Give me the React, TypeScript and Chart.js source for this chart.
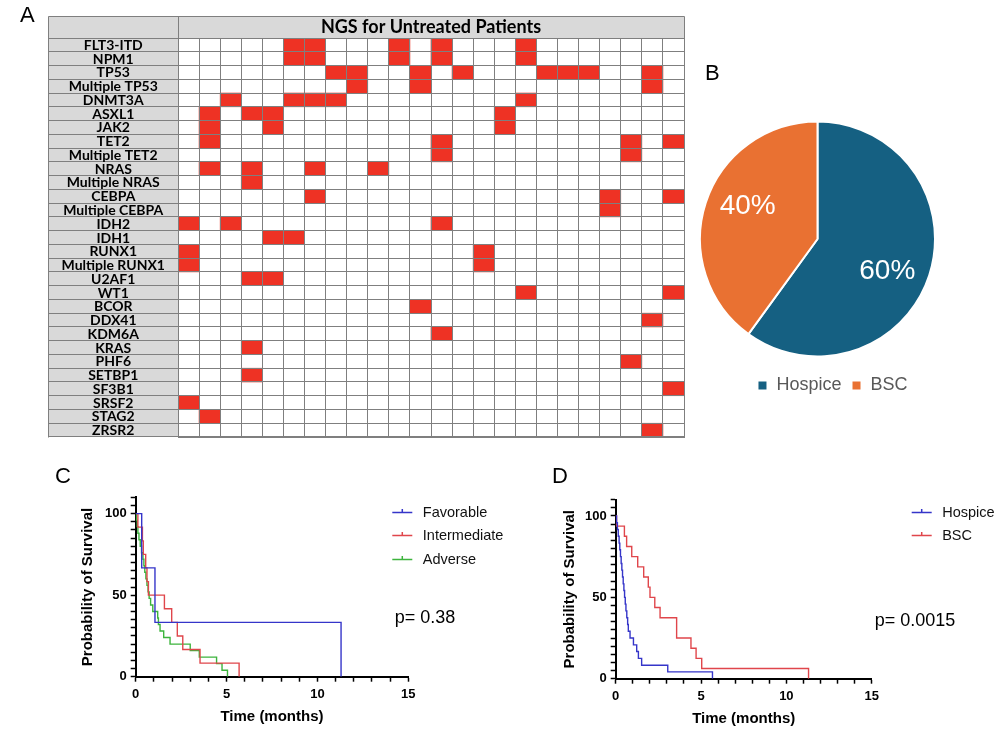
import React, { useEffect, useRef } from "react";
import { Chart, registerables } from "chart.js";

Chart.register(...registerables);

// ---------------- Panel A : NGS heatmap ----------------
const genes = [
  "FLT3-ITD", "NPM1", "TP53", "Multiple TP53", "DNMT3A", "ASXL1", "JAK2", "TET2",
  "Multiple TET2", "NRAS", "Multiple NRAS", "CEBPA", "Multiple CEBPA", "IDH2", "IDH1",
  "RUNX1", "Multiple RUNX1", "U2AF1", "WT1", "BCOR", "DDX41", "KDM6A", "KRAS", "PHF6",
  "SETBP1", "SF3B1", "SRSF2", "STAG2", "ZRSR2",
];
const patientCount = 24;
// mutated patient columns (0-based) for each gene, same order as genes
const mutatedPatients: number[][] = [
  [5, 6, 10, 12, 16],
  [5, 6, 10, 12, 16],
  [7, 8, 11, 13, 17, 18, 19, 22],
  [8, 11, 22],
  [2, 5, 6, 7, 16],
  [1, 3, 4, 15],
  [1, 4, 15],
  [1, 12, 21, 23],
  [12, 21],
  [1, 3, 6, 9],
  [3],
  [6, 20, 23],
  [20],
  [0, 2, 12],
  [4, 5],
  [0, 14],
  [0, 14],
  [3, 4],
  [16, 23],
  [11],
  [22],
  [12],
  [3],
  [21],
  [3],
  [23],
  [0],
  [1],
  [22],
];
const heatmapTitle = "NGS for Untreated Patients";

// ---------------- Panel B : pie ----------------
const careLabels = ["Hospice", "BSC"];
const careShares = [60, 40];

// ---------------- Panel C : KM by risk ----------------
const favorableTimes = [0, 0.33, 1.06, 11.3];
const favorableSurvival = [100, 66.7, 33.3, 0];
const intermediateTimes = [0, 0.12, 0.37, 0.42, 0.55, 0.62, 0.7, 1.58, 1.98, 2.29, 2.59, 3.54, 5.69];
const intermediateSurvival = [100, 91.7, 83.3, 75, 66.7, 58.3, 50, 41.7, 33.3, 25, 16.7, 8.3, 0];
const adverseTimes = [0, 0.03, 0.08, 0.12, 0.18, 0.25, 0.32, 0.4, 0.45, 0.5, 0.56, 0.62, 0.68, 0.74, 0.82, 0.94, 1.21, 1.25, 1.34, 1.54, 1.89, 3.0, 3.5, 4.45, 4.75, 5.05];
const adverseSurvival = [100, 96, 92, 88, 84, 80, 76, 72, 68, 64, 60, 56, 52, 48, 44, 40, 36, 32, 28, 24, 20, 16, 12, 8, 4, 0];
const pValueC = "p= 0.38";

// ---------------- Panel D : KM by care ----------------
const hospiceTimes = [0, 0.05, 0.1, 0.15, 0.2, 0.24, 0.28, 0.32, 0.36, 0.4, 0.44, 0.48, 0.52, 0.56, 0.6, 0.65, 0.7, 0.74, 0.84, 1.04, 1.23, 1.33, 1.52, 3.05, 5.67];
const hospiceSurvival = [100, 95.8, 91.7, 87.5, 83.3, 79.2, 75, 70.8, 66.7, 62.5, 58.3, 54.2, 50, 45.8, 41.7, 37.5, 33.3, 29.2, 25, 20.8, 16.7, 12.5, 8.3, 4.2, 0];
const bscTimes = [0, 0.05, 0.51, 0.64, 0.94, 1.29, 1.64, 1.91, 2.01, 2.29, 2.6, 3.57, 4.41, 4.71, 5.04, 11.3];
const bscSurvival = [100, 93.75, 87.5, 81.25, 75, 68.75, 62.5, 56.25, 50, 43.75, 37.5, 25, 18.75, 12.5, 6.25, 0];
const pValueD = "p= 0.0015";

const xTicksMonths = [0, 5, 10, 15];
const yTicksSurvival = [0, 50, 100];

// ---------------- styles ----------------
const SANS = '"Liberation Sans", Arial, Helvetica, sans-serif';
const TABLE_FONT = 'Lato, "DejaVu Sans Condensed", sans-serif';
const CELL_RED = "#ee3224";
const CELL_GRAY = "#d9d9d9";
const GRID_LINE = "#7f7f7f";
const KM_BLUE = "#3535c9";
const KM_RED = "#e0464b";
const KM_GREEN = "#3db43d";

const crisp = (v: number) => Math.round(v - 0.5) + 0.5;

function Heatmap() {
  const ref = useRef<HTMLCanvasElement>(null);
  useEffect(() => {
    const maxHits = Math.max(...mutatedPatients.map((m) => m.length));
    const datasets = Array.from({ length: maxHits }, (_, k) => ({
      label: "hit " + (k + 1),
      data: mutatedPatients.map((m) => (k < m.length ? [m[k], m[k] + 1] : null)),
      backgroundColor: CELL_RED,
      borderWidth: 0,
      grouped: false,
      barPercentage: 1,
      categoryPercentage: 1,
    }));
    const tablePlugin = {
      id: "tableDecor",
      beforeDraw(chart: any) {
        const { ctx, chartArea } = chart;
        const ys = chart.scales.y;
        const top = chart.titleBlock.top;
        ctx.save();
        ctx.fillStyle = CELL_GRAY;
        ctx.fillRect(ys.left, top, chartArea.right - ys.left, chartArea.top - top);
        ctx.fillRect(ys.left, chartArea.top, chartArea.left - ys.left, chartArea.bottom - chartArea.top);
        ctx.restore();
      },
      afterDraw(chart: any) {
        const { ctx, chartArea } = chart;
        const ys = chart.scales.y;
        const top = crisp(chart.titleBlock.top);
        const L = crisp(ys.left);
        const R = crisp(chartArea.right);
        const M = crisp(chartArea.left);
        const HB = crisp(chartArea.top);
        ctx.save();
        ctx.strokeStyle = GRID_LINE;
        ctx.lineWidth = 1;
        ctx.beginPath();
        ctx.moveTo(L, top);
        ctx.lineTo(R, top);
        ctx.lineTo(R, HB);
        ctx.moveTo(M, top);
        ctx.lineTo(M, HB);
        ctx.moveTo(L, top);
        ctx.lineTo(L, crisp(chartArea.bottom));
        ctx.stroke();
        ctx.fillStyle = "#000";
        ctx.font = "bold 14px " + TABLE_FONT;
        ctx.textAlign = "center";
        ctx.textBaseline = "middle";
        const cx = (ys.left + chartArea.left) / 2;
        chart.data.labels.forEach((g: string, i: number) => {
          ctx.fillText(g, cx, ys.getPixelForTick(i) + 0.5);
        });
        ctx.restore();
      },
    };
    const chart = new Chart(ref.current as HTMLCanvasElement, {
      type: "bar",
      data: { labels: genes, datasets: datasets as any },
      options: {
        indexAxis: "y",
        animation: false,
        responsive: false,
        events: [],
        layout: { padding: { left: 48.5, top: 16, right: 16, bottom: 8 } },
        plugins: {
          legend: { display: false },
          tooltip: { enabled: false },
          title: {
            display: true,
            text: heatmapTitle,
            fullSize: false,
            color: "#000",
            font: { family: TABLE_FONT, size: 18, weight: "bold", lineHeight: 1 },
            padding: { top: 2.5, bottom: 1.5 },
          },
        },
        scales: {
          x: {
            type: "linear",
            min: 0,
            max: patientCount,
            afterFit: (s: any) => {
              s.height = 0;
            },
            ticks: { display: false, stepSize: 1 },
            grid: { color: GRID_LINE, drawTicks: false, z: 1 },
            border: { color: GRID_LINE, z: 1 },
          },
          y: {
            type: "category",
            offset: true,
            afterFit: (s: any) => {
              s.width = 129.5;
            },
            ticks: { display: false },
            grid: { offset: true, color: GRID_LINE, tickColor: GRID_LINE, drawTicks: true, tickLength: 129.5, z: 1 },
            border: { color: GRID_LINE, z: 1 },
          },
        },
      } as any,
      plugins: [tablePlugin],
    });
    return () => chart.destroy();
  }, []);
  return (
    <canvas
      ref={ref}
      width={700}
      height={445}
      style={{ position: "absolute", left: 0, top: 0, width: 700, height: 445 }}
    />
  );
}

function PieChart() {
  const ref = useRef<HTMLCanvasElement>(null);
  useEffect(() => {
    const labelShift = 0.12;
    const pieLabels = {
      id: "pieLabels",
      afterDatasetsDraw(chart: any) {
        const ctx = chart.ctx;
        const meta = chart.getDatasetMeta(0);
        ctx.save();
        ctx.fillStyle = "#fff";
        ctx.font = "28px " + SANS;
        ctx.textAlign = "center";
        ctx.textBaseline = "middle";
        meta.data.forEach((arc: any, i: number) => {
          const p = arc.getProps(["x", "y", "startAngle", "endAngle", "outerRadius"], true);
          const a = (p.startAngle + p.endAngle) / 2 + labelShift;
          const r = p.outerRadius * 0.655;
          ctx.fillText(chart.data.datasets[0].data[i] + "%", p.x + Math.cos(a) * r, p.y + Math.sin(a) * r);
        });
        ctx.restore();
      },
    };
    const chart = new Chart(ref.current as HTMLCanvasElement, {
      type: "pie",
      data: {
        labels: careLabels,
        datasets: [
          {
            data: careShares,
            backgroundColor: ["#156082", "#e97132"],
            borderColor: "#fff",
            borderWidth: 2,
          },
        ],
      },
      options: {
        animation: false,
        responsive: false,
        events: [],
        layout: { padding: { left: 9, right: 0, top: 56.5, bottom: 0.5 } },
        plugins: {
          tooltip: { enabled: false },
          title: { display: true, text: "", position: "right", fullSize: false, padding: 0, font: { size: 30, lineHeight: 1 } },
          legend: {
            position: "bottom",
            labels: {
              boxWidth: 10,
              boxHeight: 10,
              padding: 10,
              color: "#595959",
              font: { family: SANS, size: 18 },
            },
          },
        },
      } as any,
      plugins: [pieLabels],
    });
    return () => chart.destroy();
  }, []);
  return (
    <canvas
      ref={ref}
      width={276}
      height={350}
      style={{ position: "absolute", left: 690, top: 55, width: 276, height: 350 }}
    />
  );
}

type Series = { label: string; color: string; times: number[]; survival: number[] };
type KMProps = {
  left: number;
  top: number;
  series: Series[];
  pText: string;
  plot: { l: number; r: number; t: number; b: number };
  yTitleX: number;
  xTitleY: number;
  legendDx: number;
  legendDy: number;
};

function KMChart(props: KMProps) {
  const ref = useRef<HTMLCanvasElement>(null);
  useEffect(() => {
    const W = 520;
    const H = 280;
    const { plot } = props;
    const padLeft = 74;
    const titleLine = 18;
    const xScaleBottom = props.xTitleY + titleLine / 2;
    const kmDecor = {
      id: "kmDecor",
      afterDraw(chart: any) {
        const { ctx, chartArea } = chart;
        ctx.save();
        ctx.textBaseline = "middle";
        ctx.textAlign = "left";
        ctx.font = "14.5px " + SANS;
        chart.data.datasets.forEach((ds: any, i: number) => {
          const y = Math.round(chartArea.top + props.legendDy + i * 23.6) + 0.5;
          const x = chartArea.left + props.legendDx;
          ctx.strokeStyle = ds.borderColor;
          ctx.lineWidth = 1.5;
          ctx.beginPath();
          ctx.moveTo(x, y);
          ctx.lineTo(x + 20, y);
          ctx.moveTo(x + 10, y);
          ctx.lineTo(x + 10, y - 3.5);
          ctx.stroke();
          ctx.fillStyle = "#111";
          ctx.fillText(ds.label, x + 30.5, y + 0.5);
        });
        ctx.font = "18px " + SANS;
        ctx.fillStyle = "#000";
        ctx.fillText(props.pText, chartArea.left + 259, chartArea.top + 121);
        ctx.restore();
      },
    };
    const axisFont = { family: SANS, size: 13, weight: "bold" };
    const titleFont = { family: SANS, size: 15, weight: "bold", lineHeight: 1.2 };
    const chart = new Chart(ref.current as HTMLCanvasElement, {
      type: "line",
      data: {
        datasets: props.series.map((s) => ({
          label: s.label,
          data: s.times.map((t, i) => ({ x: t, y: s.survival[i] })),
          borderColor: s.color,
          backgroundColor: s.color,
          borderWidth: 1.4,
          pointRadius: 0,
          stepped: "before",
          fill: false,
        })),
      },
      options: {
        animation: false,
        responsive: false,
        events: [],
        layout: { padding: { left: padLeft, right: W - plot.r, top: plot.t, bottom: H - xScaleBottom } },
        plugins: { legend: { display: false }, tooltip: { enabled: false } },
        scales: {
          x: {
            type: "linear",
            min: 0,
            max: 15,
            afterFit: (s: any) => {
              s.height = xScaleBottom - plot.b;
            },
            ticks: {
              stepSize: 1,
              autoSkip: false,
              maxRotation: 0,
              padding: 5,
              color: "#000",
              font: axisFont,
              callback: (v: any) => (xTicksMonths.includes(Number(v)) ? String(v) : ""),
            },
            grid: { drawOnChartArea: false, drawTicks: true, tickLength: 5, tickColor: "#000", tickWidth: 1.5 },
            border: { color: "#000", width: 2 },
            title: { display: true, text: "Time (months)", color: "#000", font: titleFont, padding: 0 },
          },
          y: {
            type: "linear",
            min: 0,
            max: 110,
            afterFit: (s: any) => {
              s.width = plot.l - padLeft;
            },
            ticks: {
              stepSize: 5,
              autoSkip: false,
              padding: 4,
              color: "#000",
              font: axisFont,
              callback: (v: any) => (yTicksSurvival.includes(Number(v)) ? String(v) : ""),
            },
            grid: { drawOnChartArea: false, drawTicks: true, tickLength: 5, tickColor: "#000", tickWidth: 1.5 },
            border: { color: "#000", width: 2 },
            title: {
              display: true,
              text: "Probability of Survival",
              color: "#000",
              font: titleFont,
              padding: { top: props.yTitleX - padLeft - titleLine / 2, bottom: 0 },
            },
          },
        },
      } as any,
      plugins: [kmDecor],
    });
    return () => chart.destroy();
  }, []);
  return (
    <canvas
      ref={ref}
      width={520}
      height={280}
      style={{ position: "absolute", left: props.left, top: props.top, width: 520, height: 280 }}
    />
  );
}

function Letter({ text, x, y }: { text: string; x: number; y: number }) {
  return (
    <div
      style={{
        position: "absolute",
        left: x,
        top: y,
        fontFamily: SANS,
        fontSize: 22,
        lineHeight: "22px",
        color: "#000",
      }}
    >
      {text}
    </div>
  );
}

export default function App() {
  const seriesC: Series[] = [
    { label: "Favorable", color: KM_BLUE, times: favorableTimes, survival: favorableSurvival },
    { label: "Intermediate", color: KM_RED, times: intermediateTimes, survival: intermediateSurvival },
    { label: "Adverse", color: KM_GREEN, times: adverseTimes, survival: adverseSurvival },
  ];
  const seriesD: Series[] = [
    { label: "Hospice", color: KM_BLUE, times: hospiceTimes, survival: hospiceSurvival },
    { label: "BSC", color: KM_RED, times: bscTimes, survival: bscSurvival },
  ];
  return (
    <div
      style={{
        position: "absolute",
        left: 0,
        top: 0,
        width: 1000,
        height: 735,
        background: "#fff",
        overflow: "hidden",
      }}
    >
      <Heatmap />
      <PieChart />
      <KMChart
        left={0}
        top={455}
        series={seriesC}
        pText={pValueC}
        plot={{ l: 135.7, r: 408.3, t: 42.3, b: 221.7 }}
        yTitleX={87.5}
        xTitleY={262}
        legendDx={256.6}
        legendDy={14.4}
      />
      <KMChart
        left={480}
        top={455}
        series={seriesD}
        pText={pValueD}
        plot={{ l: 135.7, r: 391.7, t: 44.7, b: 223.7 }}
        yTitleX={90}
        xTitleY={264}
        legendDx={296}
        legendDy={12}
      />
      <Letter text="A" x={20} y={4} />
      <Letter text="B" x={705} y={62} />
      <Letter text="C" x={55} y={465} />
      <Letter text="D" x={552} y={465} />
    </div>
  );
}
